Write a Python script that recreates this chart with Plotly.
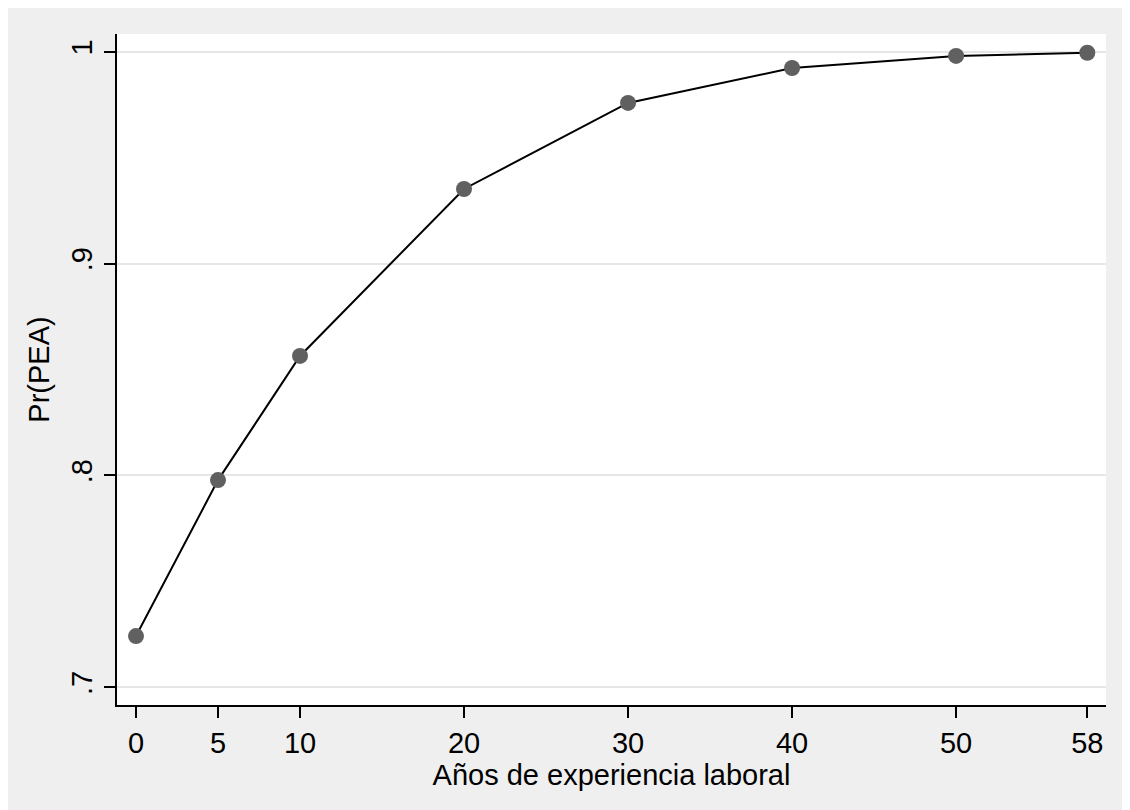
import plotly.graph_objects as go

experiencia = [0, 5, 10, 20, 30, 40, 50, 58]
pr_pea = [0.7242, 0.7978, 0.8564, 0.9352, 0.9758, 0.9923, 0.9980, 0.9995]
x_ticks = [0, 5, 10, 20, 30, 40, 50, 58]
y_ticks = [0.7, 0.8, 0.9, 1.0]
y_tick_text = [".7", ".8", ".9", "1"]

FONT = "Liberation Sans, Arial, sans-serif"

fig = go.Figure()
fig.add_trace(go.Scatter(
    x=experiencia, y=pr_pea, mode="lines+markers",
    line=dict(color="black", width=2),
    marker=dict(color="#606060", size=16, line=dict(width=0)),
    showlegend=False,
))

fig.update_layout(
    width=1130, height=810,
    margin=dict(l=109, r=32, t=26, b=113),
    paper_bgcolor="#EFEFEF",
    plot_bgcolor="white",
    font=dict(family=FONT, size=29, color="black"),
    xaxis=dict(
        range=[-1.158, 59.14], tickvals=x_ticks, ticktext=[str(v) for v in x_ticks],
        showgrid=False, zeroline=False, showline=True, linecolor="black", linewidth=2,
        ticks="outside", ticklen=11, tickwidth=2, tickcolor="black",
        tickfont=dict(size=29),
        title=dict(text="Años de experiencia laboral", font=dict(size=29), standoff=2),
    ),
    yaxis=dict(
        range=[0.69165, 1.00835], tickvals=y_ticks, ticktext=y_tick_text, tickangle=-90,
        showgrid=True, gridcolor="#E6E6E6", gridwidth=2, zeroline=False,
        showline=True, linecolor="black", linewidth=2,
        ticks="outside", ticklen=11, tickwidth=2, tickcolor="black",
        tickfont=dict(size=29),
        title=dict(text="Pr(PEA)", font=dict(size=29), standoff=8),
    ),
)

fig.write_html("out.html", post_script="document.body.style.overflow='hidden';")
